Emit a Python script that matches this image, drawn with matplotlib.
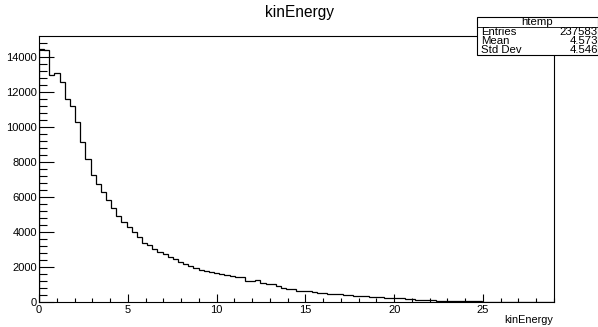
import numpy as np
import matplotlib
matplotlib.use('Agg')
import matplotlib.pyplot as plt
from matplotlib.patches import Rectangle
from matplotlib.ticker import MultipleLocator

plt.rcParams['font.family'] = ['Liberation Sans', 'DejaVu Sans']

# histogram: 100 bins between 0 and 29
x_lo = 0.0
x_hi = 29.0
counts = [14450, 14400, 12970, 13070, 12530, 11580, 11200, 10290, 9140, 8150,
          7260, 6720, 6270, 5830, 5350, 4930, 4590, 4250, 4020, 3720,
          3350, 3240, 3020, 2870, 2740, 2560, 2450, 2300, 2180, 2070,
          1960, 1840, 1770, 1700, 1640, 1600, 1540, 1480, 1410, 1400,
          1200, 1190, 1230, 1070, 1020, 1000, 910, 820, 750, 730,
          650, 630, 600, 570, 510, 490, 450, 470, 440, 410,
          380, 360, 330, 320, 300, 290, 270, 250, 240, 220,
          200, 180, 170, 140, 120, 110, 90, 80, 75, 70,
          70, 65, 60, 45, 35, 30, 25, 15, 10, 10,
          5, 5, 3, 2, 2, 1, 1, 0, 0, 0]

title = 'kinEnergy'
xlabel = 'kinEnergy'
hist_name = 'htemp'
stat_names = ['Entries', 'Mean', 'Std Dev']
stat_values = ['237583', '4.573', '4.546']

W, H = 598, 327
fig = plt.figure(figsize=(W / 100, H / 100), dpi=100)
ax = fig.add_axes([39 / W, 1 - 302 / H, (554 - 39) / W, (302 - 36) / H])

edges = np.linspace(x_lo, x_hi, len(counts) + 1)
ax.stairs(counts, edges, color='black', lw=0.9)

ax.set_xlim(x_lo, x_hi)
ax.set_ylim(0, max(counts) * 1.05)

ax.xaxis.set_major_locator(MultipleLocator(5))
ax.xaxis.set_minor_locator(MultipleLocator(1))
ax.yaxis.set_major_locator(MultipleLocator(2000))
ax.yaxis.set_minor_locator(MultipleLocator(400))

ax.tick_params(axis='x', which='major', direction='in', length=5.5, width=0.8,
               labelsize=8, pad=2)
ax.tick_params(axis='x', which='minor', direction='in', length=2.8, width=0.8)
ax.tick_params(axis='y', which='major', direction='in', length=11, width=0.8,
               labelsize=8, pad=1.5)
ax.tick_params(axis='y', which='minor', direction='in', length=5.5, width=0.8)
for s in ax.spines.values():
    s.set_linewidth(0.8)

# title and axis label in ROOT positions
fig.text(0.5, 1 - 13 / H, title, ha='center', va='center', fontsize=11.2)
fig.text(553 / W, 1 - 320 / H, xlabel, ha='right', va='center', fontsize=7.8)

# statistics box
bx0, bx1 = 477, 598
by0, by1 = 17, 55
fig.patches.append(Rectangle((bx0 / W, 1 - by1 / H), (bx1 - bx0) / W,
                             (by1 - by0) / H, transform=fig.transFigure,
                             facecolor='white', edgecolor='black', lw=0.8))
fig.lines.append(plt.Line2D([bx0 / W, bx1 / W], [1 - 27 / H, 1 - 27 / H],
                            transform=fig.transFigure, color='black', lw=0.6))
fig.text((bx0 + bx1) / 2 / W, 1 - 22 / H, hist_name, ha='center', va='center',
         fontsize=8.2)
for i, (n, v) in enumerate(zip(stat_names, stat_values)):
    yy = 1 - (32 + 9 * i) / H
    fig.text(481 / W, yy, n, ha='left', va='center', fontsize=8.2)
    fig.text(598 / W, yy, v, ha='right', va='center', fontsize=8.2)

fig.savefig('out.png', dpi=100)
